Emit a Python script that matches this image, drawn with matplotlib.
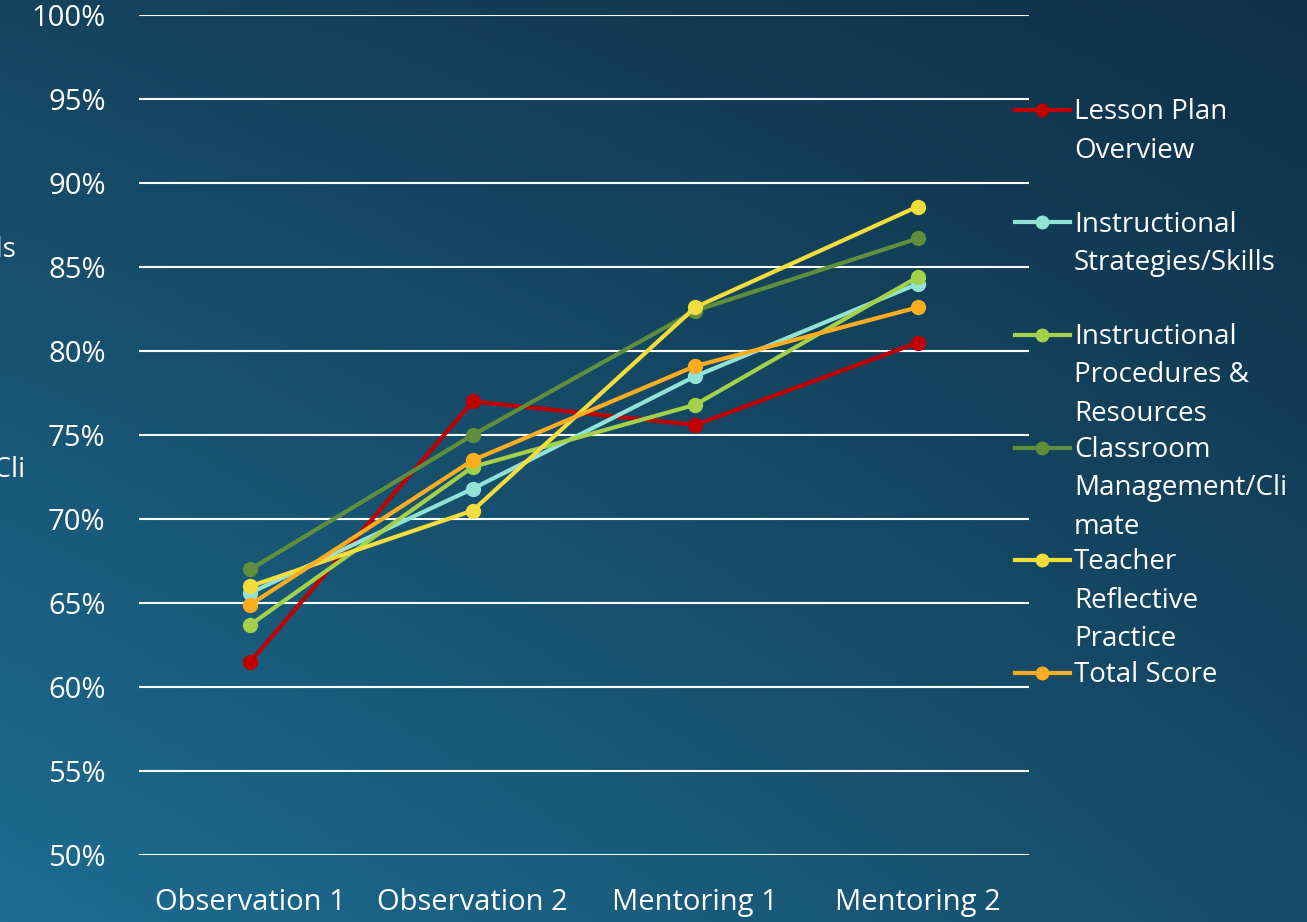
import numpy as np
import matplotlib.pyplot as plt
from matplotlib.lines import Line2D

plt.rcParams['font.family'] = ['Open Sans', 'DejaVu Sans']

# 数据
stages = ['Observation 1', 'Observation 2', 'Mentoring 1', 'Mentoring 2']
lesson_plan = [61.5, 77.0, 75.6, 80.5]
strategies = [65.6, 71.8, 78.5, 84.0]
procedures = [63.7, 73.1, 76.8, 84.4]
classroom = [67.0, 75.0, 82.4, 86.7]
reflective = [66.0, 70.5, 82.6, 88.6]
total = [64.9, 73.5, 79.1, 82.6]

series = [
    ('Lesson Plan\nOverview', lesson_plan, '#c00000'),
    ('Instructional\nStrategies/Skills', strategies, '#92e3d6'),
    ('Instructional\nProcedures &\nResources', procedures, '#a3d14a'),
    ('Classroom\nManagement/Cli\nmate', classroom, '#5f8f3c'),
    ('Teacher\nReflective\nPractice', reflective, '#f2dd3c'),
    ('Total Score', total, '#fbad1f'),
]

W, H = 1307, 922
fig = plt.figure(figsize=(W / 100, H / 100), dpi=100)

# 背景渐变
bg = fig.add_axes([0, 0, 1, 1], zorder=-10)
bg.axis('off')
xx, yy = np.meshgrid(np.linspace(0, 1, 200), np.linspace(0, 1, 200))
tl = np.array([0x15, 0x44, 0x5e]) / 255
tr = np.array([0x0f, 0x30, 0x48]) / 255
bl = np.array([0x1d, 0x6d, 0x92]) / 255
br = np.array([0x16, 0x4c, 0x68]) / 255
img = (tl[None, None] * ((1 - xx) * (1 - yy))[..., None]
       + tr[None, None] * (xx * (1 - yy))[..., None]
       + bl[None, None] * ((1 - xx) * yy)[..., None]
       + br[None, None] * (xx * yy)[..., None])
bg.imshow(img, extent=[0, 1, 0, 1], aspect='auto')

ax = fig.add_axes([139 / W, 1 - 855 / H, 890 / W, 840 / H])
ax.set_facecolor('none')
x = np.arange(len(stages))
for label, vals, col in series:
    ax.plot(x, vals, color=col, lw=3, marker='o', ms=10, zorder=3)

ax.set_xlim(-0.5, 3.5)
ax.set_ylim(50, 100)
ax.set_yticks(np.arange(50, 101, 5))
ax.set_yticklabels([f'{v}%' for v in range(50, 101, 5)])
ax.set_xticks(x)
ax.set_xticklabels(stages)
ax.yaxis.grid(True, color='white', lw=1.5)
ax.set_axisbelow(True)
for s in ax.spines.values():
    s.set_visible(False)
ax.tick_params(length=0, colors='white', labelsize=21)
ax.tick_params(axis='y', pad=24)
ax.tick_params(axis='x', pad=24)

# 图例（手动）
for i, (label, vals, col) in enumerate(series):
    yp = 1 - (110 + i * 112.5) / H
    fig.add_artist(Line2D([1015 / W, 1070 / W], [yp, yp], color=col, lw=3,
                          transform=fig.transFigure))
    fig.add_artist(Line2D([1042 / W], [yp], color=col, marker='o', ms=9,
                          transform=fig.transFigure))
    fig.text(1074 / W, yp + 12 / H, label, color='white', fontsize=20,
             va='top', ha='left', linespacing=1.5)

# 左侧被截断的文字
fig.text(17 / W, 1 - 250 / H, 'Strategies/Skills', color='white', fontsize=20,
         ha='right', va='center')
fig.text(25 / W, 1 - 470 / H, 'Management/Cli', color='white', fontsize=20,
         ha='right', va='center')

plt.savefig('out.png', dpi=100)
